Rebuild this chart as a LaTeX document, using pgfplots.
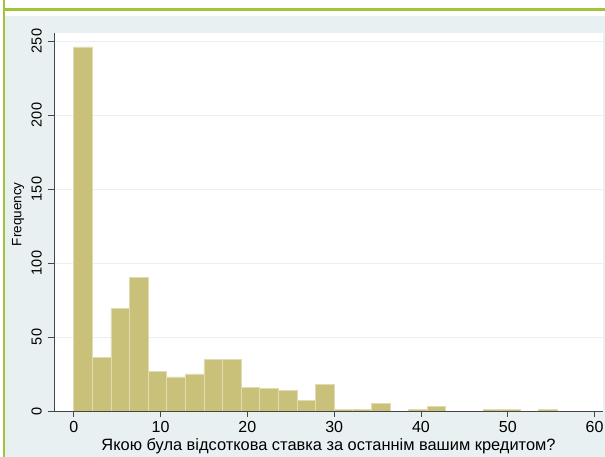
\documentclass[border=0pt]{standalone}
\usepackage{pgfplots}
\pgfplotsset{compat=1.18}
\usepackage{fontspec}
\setmainfont{Liberation Sans}

\definecolor{bgblue}{RGB}{232,240,242}
\definecolor{framegreen}{RGB}{160,196,60}
\definecolor{barfill}{RGB}{201,193,122}
\definecolor{baredge}{RGB}{224,219,176}
\definecolor{gridc}{RGB}{234,241,243}
\definecolor{axisc}{RGB}{70,70,70}

\begin{document}
\begin{tikzpicture}
\useasboundingbox (0pt,0pt) rectangle (605pt,457pt);
% page frame and graph region
\fill[bgblue] (5pt,0pt) rectangle (605pt,441pt);
\draw[framegreen, line width=3pt] (3pt,447.5pt) -- (605pt,447.5pt);
\draw[framegreen, line width=2pt] (3.7pt,0pt) -- (3.7pt,457pt);

\begin{axis}[
    at={(54pt,46pt)}, anchor=south west,
    scale only axis, width=549pt, height=378.3pt,
    xmin=-2.28, xmax=60.97,
    ymin=0, ymax=255.6,
    axis x line*=bottom, axis y line*=left,
    axis line style={draw=axisc, line width=0.8pt},
    tick align=outside, major tick length=6pt,
    tick style={draw=axisc, line width=0.8pt},
    xtick={0,10,...,60},
    ytick={0,50,...,250},
    ymajorgrids, grid style={gridc, line width=0.8pt},
    axis background/.style={fill=white},
    /pgf/number format/assume math mode=true,
    xticklabel style={font=\fontsize{16}{18}\selectfont, anchor=north, inner sep=0pt},
    xticklabel shift=3.7pt,
    yticklabel style={font=\fontsize{14.5}{16}\selectfont, rotate=90, anchor=base, inner sep=0pt},
    yticklabel shift=6.3pt,
    xlabel={Якою була відсоткова ставка за останнім вашим кредитом?},
    xlabel style={font=\fontsize{16.4}{18}\selectfont, at={(axis description cs:0.5,0)}, anchor=base, yshift=-40pt},
    ylabel={Frequency},
    ylabel style={font=\fontsize{13.5}{15}\selectfont, at={([xshift=-32.7pt]axis description cs:0,0.52)}, anchor=base},
    ybar, bar width=2.142857,
    ]
    \addplot[fill=barfill, draw=baredge, line width=0.8pt]
    coordinates {
    (1.0714,246) (3.2143,36) (5.3571,69) (7.5,90) (9.6429,27)
    (11.7857,23) (13.9286,25) (16.0714,35) (18.2143,35) (20.3571,16)
    (22.5,15) (24.6429,14) (26.7857,7) (28.9286,18) (31.0714,1)
    (33.2143,1) (35.3571,5) (39.6429,1) (41.7857,3) (48.2143,1)
    (50.3571,1) (54.6429,1)
    };
\end{axis}
\end{tikzpicture}
\end{document}
